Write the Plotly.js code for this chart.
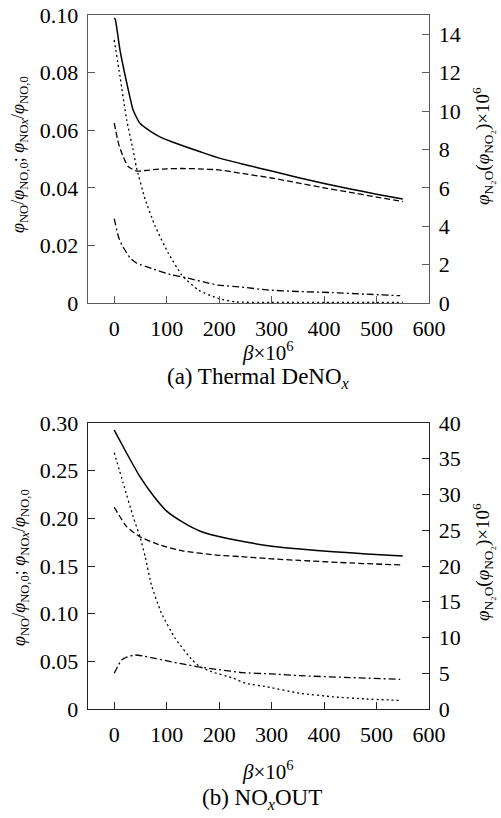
<!DOCTYPE html>
<html>
<head>
<meta charset="utf-8">
<script src="https://cdn.plot.ly/plotly-3.0.1.min.js"></script>
<style>html,body{margin:0;padding:0;background:#fff;}#chart{width:501px;height:818px;}</style>
</head>
<body>
<div id="chart"></div>
<script>
// ---- (a) Thermal DeNOx ----
const aSolidX = [0, 2, 11, 24, 36, 49, 70, 87, 120, 164, 200, 250, 300, 350, 400, 450, 500, 550];
const aSolidY = [0.099, 0.0985, 0.0878, 0.0763, 0.067, 0.0624, 0.0595, 0.0577, 0.0553, 0.0525, 0.0503, 0.0480, 0.0458, 0.0436, 0.0415, 0.0396, 0.0378, 0.0361];
const aDashX = [0, 8, 17, 27, 43, 60, 80, 100, 130, 160, 200, 240, 300, 350, 400, 450, 500, 550];
const aDashY = [0.0625, 0.0555, 0.0508, 0.0473, 0.0458, 0.046, 0.0464, 0.0466, 0.0467, 0.0466, 0.0462, 0.0451, 0.0434, 0.0417, 0.040, 0.0384, 0.0368, 0.0352];
const aDotX = [0, 11, 24, 36, 42, 59, 78, 103, 129, 160, 198, 230, 300, 400, 500, 550];
const aDotY = [13.7, 11.8, 9.5, 7.97, 7.1, 5.4, 4.0, 2.6, 1.45, 0.68, 0.24, 0.06, 0.03, 0.03, 0.03, 0.03];
const aDashDotX = [0, 8, 15, 24, 30, 43, 71, 110, 141, 170, 198, 243, 291, 350, 417, 480, 545];
const aDashDotY = [4.4, 3.45, 3.0, 2.6, 2.35, 2.07, 1.8, 1.46, 1.29, 1.1, 0.93, 0.83, 0.68, 0.6, 0.54, 0.46, 0.38];

// ---- (b) NOxOUT ----
const bSolidX = [0, 24, 49, 75, 100, 132, 164, 214, 259, 300, 354, 418, 481, 550];
const bSolidY = [0.2926, 0.268, 0.2437, 0.2234, 0.2075, 0.1955, 0.1865, 0.179, 0.1744, 0.1708, 0.1678, 0.165, 0.1626, 0.1605];
const bDashX = [0, 24, 49, 87, 132, 195, 253, 300, 354, 450, 550];
const bDashY = [0.2116, 0.191, 0.1807, 0.172, 0.1657, 0.1615, 0.1594, 0.1575, 0.1558, 0.1532, 0.151];
const bDotX = [0, 17, 36, 49, 59, 71, 90, 116, 148, 164, 186, 227, 250, 291, 354, 418, 480, 545];
const bDotY = [35.85, 31.6, 26.9, 24.1, 21.3, 17.3, 13.4, 9.9, 6.9, 5.9, 5.2, 4.3, 3.6, 3.1, 2.2, 1.7, 1.4, 1.2];
const bDashDotX = [0, 7, 14, 25, 40, 56, 80, 103, 130, 160, 200, 243, 300, 354, 450, 545];
const bDashDotY = [5.0, 6.0, 6.85, 7.3, 7.55, 7.4, 7.05, 6.7, 6.3, 5.9, 5.5, 5.1, 4.9, 4.66, 4.4, 4.15];

const xTicks = [0, 100, 200, 300, 400, 500, 600];
const aLeftTicks = [0, 0.02, 0.04, 0.06, 0.08, 0.10];
const aLeftText = ['0', '0.02', '0.04', '0.06', '0.08', '0.10'];
const aRightTicks = [0, 2, 4, 6, 8, 10, 12, 14];
const bLeftTicks = [0, 0.05, 0.10, 0.15, 0.20, 0.25, 0.30];
const bLeftText = ['0', '0.05', '0.10', '0.15', '0.20', '0.25', '0.30'];
const bRightTicks = [0, 5, 10, 15, 20, 25, 30, 35, 40];

const SOLID = 'solid', DASH = '6px,3px', DOT = '2px,3px', DASHDOT = '7px,3px,2px,3px';
function tr(x, y, xa, ya, dash, w) {
  return {x: x, y: y, xaxis: xa, yaxis: ya, type: 'scatter', mode: 'lines',
    line: {color: '#000', width: w || 1.3, dash: dash, shape: 'spline', smoothing: 0.5},
    hoverinfo: 'skip', showlegend: false};
}
const data = [
  tr(aSolidX, aSolidY, 'x', 'y', SOLID, 1.5),
  tr(aDashX, aDashY, 'x', 'y', DASH),
  tr(aDotX, aDotY, 'x', 'y2', DOT),
  tr(aDashDotX, aDashDotY, 'x', 'y2', DASHDOT),
  tr(bSolidX, bSolidY, 'x2', 'y3', SOLID, 1.5),
  tr(bDashX, bDashY, 'x2', 'y3', DASH),
  tr(bDotX, bDotY, 'x2', 'y4', DOT),
  tr(bDashDotX, bDashDotY, 'x2', 'y4', DASHDOT)
];

const SERIF = 'Liberation Serif, serif';
const FONT = {family: SERIF, size: 22, color: '#000'};
const W = 501, H = 818;
const xDom = [88 / W, 429 / W];
const aDom = [1 - 303 / H, 1 - 15 / H];
const bDom = [1 - 709 / H, 1 - 423 / H];

function xax(anchor, col) {
  return {domain: xDom, anchor: anchor, range: [-50, 600], tickvals: xTicks, ticks: 'inside', ticklen: 7,
    tickcolor: col, showline: true, linecolor: col, linewidth: 1.4, mirror: true, showgrid: false,
    zeroline: false, tickfont: FONT, ticklabelstandoff: 5, automargin: false, fixedrange: true};
}
function yax(dom, anchor, range, vals, text, side, col, overlay) {
  const o = {domain: dom, anchor: anchor, range: range, tickvals: vals, ticks: 'inside', ticklen: 7,
    tickcolor: col, showline: true, linecolor: col, linewidth: 1.4, showgrid: false, zeroline: false,
    side: side, tickfont: FONT, ticklabelstandoff: 4, automargin: false, fixedrange: true};
  if (text) o.ticktext = text;
  if (overlay) o.overlaying = overlay;
  return o;
}
const aCol = '#5a5a5a', bCol = '#222';
const leftTitle = '<i>φ</i><sub>NO</sub>/<i>φ</i><sub>NO,0</sub>; <i>φ</i><sub>NO<i>x</i></sub>/<i>φ</i><sub>NO,0</sub>';
const rightTitle = '<i>φ</i><sub>N₂O</sub>(<i>φ</i><sub>NO₂</sub>)×10<sup>6</sup>';
function ann(text, x, y, size, angle) {
  return {text: text, x: x / W, y: 1 - y / H, xref: 'paper', yref: 'paper', showarrow: false,
    textangle: angle || 0, font: {family: SERIF, size: size, color: '#000'}, xanchor: 'center', yanchor: 'middle'};
}
const layout = {
  width: W, height: H, margin: {l: 0, r: 0, t: 0, b: 0},
  paper_bgcolor: '#fff', plot_bgcolor: '#fff', showlegend: false, font: FONT,
  xaxis: xax('y', aCol),
  yaxis: yax(aDom, 'x', [0, 0.10], aLeftTicks, aLeftText, 'left', aCol),
  yaxis2: yax(aDom, 'x', [0, 15], aRightTicks, null, 'right', aCol, 'y'),
  xaxis2: xax('y3', bCol),
  yaxis3: yax(bDom, 'x2', [0, 0.30], bLeftTicks, bLeftText, 'left', bCol),
  yaxis4: yax(bDom, 'x2', [0, 40], bRightTicks, null, 'right', bCol, 'y3'),
  annotations: [
    ann('<i>β</i>×10<sup>6</sup>', 268, 351, 21),
    ann('(a) Thermal DeNO<sub><i>x</i></sub>', 258, 378, 23),
    ann('<i>β</i>×10<sup>6</sup>', 268, 770, 21),
    ann('(b) NO<sub><i>x</i></sub>OUT', 262, 799, 23),
    ann(leftTitle, 20, 155, 18, -90),
    ann(leftTitle, 20, 568, 18, -90),
    ann(rightTitle, 482, 146, 19, -90),
    ann(rightTitle, 482, 562, 19, -90)
  ]
};
Plotly.newPlot('chart', data, layout, {staticPlot: true, displayModeBar: false});
</script>
</body>
</html>
